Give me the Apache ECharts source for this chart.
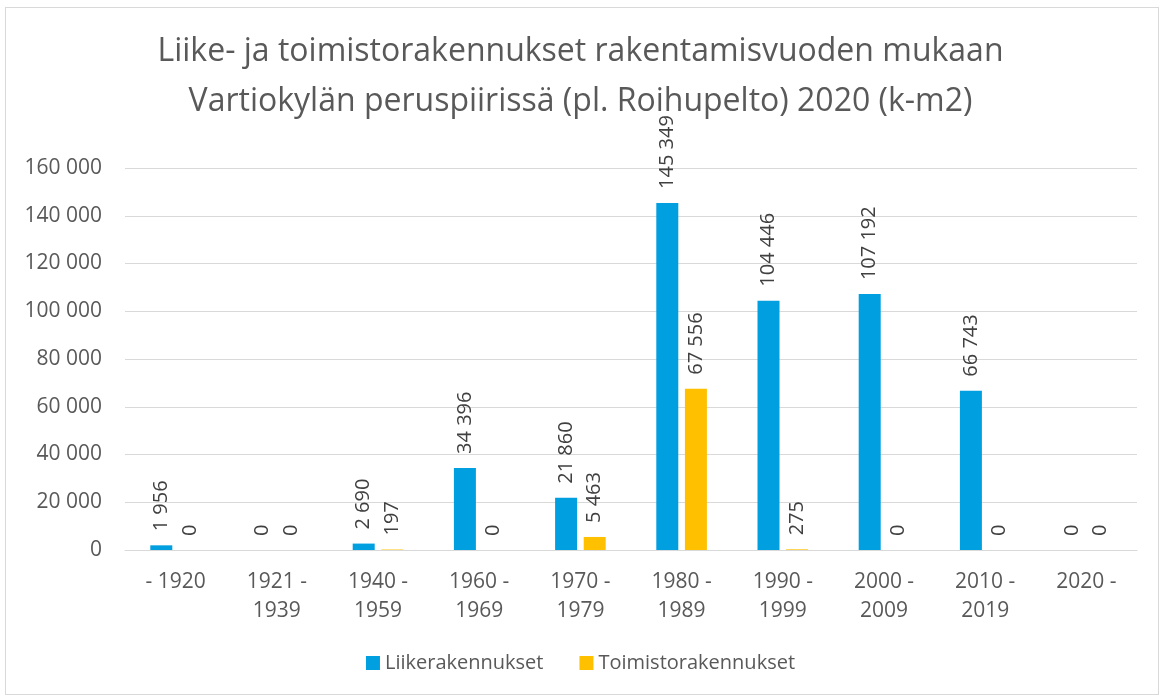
<!DOCTYPE html>
<html>
<head>
<meta charset="utf-8">
<script src="https://cdn.jsdelivr.net/npm/echarts@6/dist/echarts.min.js"></script>
<style>
  html, body { margin: 0; padding: 0; background: #fff; }
  #chart { width: 1161px; height: 698px; }
  #frame { position: absolute; left: 5px; top: 7px; width: 1154px; height: 688px; border: 1px solid #d9d9d9; box-sizing: border-box; pointer-events: none; }
</style>
</head>
<body>
<div id="chart"></div>
<div id="frame"></div>
<script>
  var categories = ['- 1920', '1921 -\n1939', '1940 -\n1959', '1960 -\n1969', '1970 -\n1979',
                    '1980 -\n1989', '1990 -\n1999', '2000 -\n2009', '2010 -\n2019', '2020 -'];
  var liike = [1956, 0, 2690, 34396, 21860, 145349, 104446, 107192, 66743, 0];
  var toimisto = [0, 0, 197, 0, 5463, 67556, 275, 0, 0, 0];
  var seriesNames = ['Liikerakennukset', 'Toimistorakennukset'];

  var fontFam = '"Open Sans", "Noto Sans", sans-serif';

  function fmt(v) {
    return String(v).replace(/\B(?=(\d{3})+(?!\d))/g, ' ');
  }

  var barLabel = {
    show: true,
    position: 'top',
    rotate: 90,
    align: 'left',
    verticalAlign: 'middle',
    distance: 14,
    color: '#404040',
    fontSize: 20,
    fontFamily: fontFam,
    formatter: function (p) { return fmt(p.value); }
  };

  var chart = echarts.init(document.getElementById('chart'));
  var option = {
    animation: false,
    title: {
      text: 'Liike- ja toimistorakennukset rakentamisvuoden mukaan\nVartiokylän peruspiirissä (pl. Roihupelto) 2020 (k-m2)',
      left: 'center',
      top: 22,
      textStyle: {
        color: '#595959',
        fontSize: 32,
        fontWeight: 'normal',
        fontFamily: fontFam,
        lineHeight: 50
      }
    },
    legend: {
      bottom: 20,
      left: 'center',
      itemWidth: 14,
      itemHeight: 14,
      itemGap: 36,
      icon: 'rect',
      textStyle: { color: '#595959', fontSize: 20, fontFamily: fontFam },
      data: seriesNames
    },
    grid: { left: 125, right: 24, top: 168, bottom: 148, containLabel: false },
    xAxis: {
      type: 'category',
      data: categories,
      axisLine: { lineStyle: { color: '#d9d9d9' } },
      axisTick: { show: false },
      axisLabel: {
        color: '#595959',
        fontSize: 21,
        fontFamily: fontFam,
        lineHeight: 29,
        margin: 18,
        interval: 0
      }
    },
    yAxis: {
      type: 'value',
      min: 0,
      max: 160000,
      interval: 20000,
      axisLine: { show: false },
      axisTick: { show: false },
      splitLine: { lineStyle: { color: '#d9d9d9', width: 1 } },
      axisLabel: {
        color: '#595959',
        fontSize: 21,
        fontFamily: fontFam,
        margin: 23,
        formatter: function (v) { return fmt(v); }
      }
    },
    series: [
      {
        name: seriesNames[0],
        type: 'bar',
        data: liike,
        barWidth: 22,
        barGap: '30%',
        itemStyle: { color: '#009fe0' },
        label: barLabel
      },
      {
        name: seriesNames[1],
        type: 'bar',
        data: toimisto,
        barWidth: 22,
        itemStyle: { color: '#ffc000' },
        label: barLabel
      }
    ]
  };
  chart.setOption(option);
</script>
</body>
</html>
